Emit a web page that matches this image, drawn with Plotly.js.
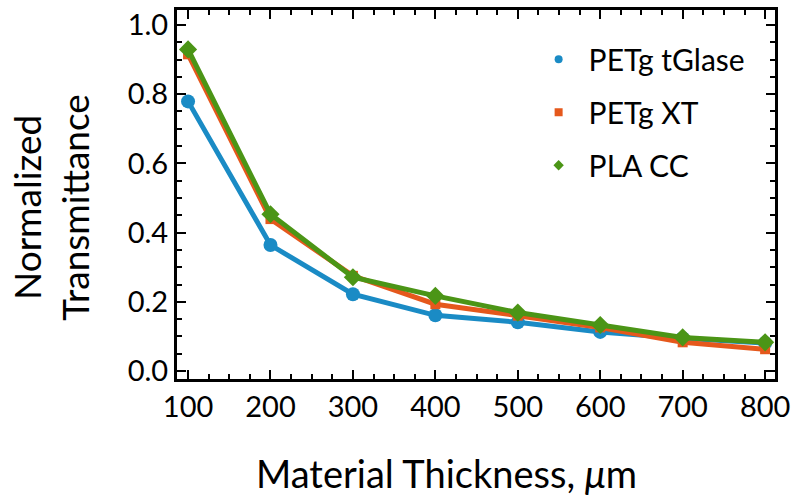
<!DOCTYPE html>
<html>
<head>
<meta charset="utf-8">
<script src="https://cdn.plot.ly/plotly-3.0.1.min.js"></script>
<style>html,body{margin:0;padding:0;background:#fff;}#chart{width:798px;height:497px;}</style>
</head>
<body>
<div id="chart"></div>
<script>
const thickness = [100, 200, 300, 400, 500, 600, 700, 800];
const petgTGlase = [0.779, 0.364, 0.222, 0.161, 0.141, 0.113, 0.095, 0.081];
const petgXT = [0.915, 0.439, 0.275, 0.193, 0.160, 0.126, 0.083, 0.063];
const plaCC = [0.929, 0.453, 0.271, 0.217, 0.169, 0.133, 0.097, 0.083];
const seriesNames = ["PETg tGlase", "PETg XT", "PLA CC"];
const colors = ["#1a8bc5", "#e5581c", "#4b9516"];
const symbols = ["circle", "square", "diamond"];
const sizes = [14, 10, 14];
const xTicks = [100, 200, 300, 400, 500, 600, 700, 800];
const yTicks = [0, 0.2, 0.4, 0.6, 0.8, 1.0];
const xTitle = "Material Thickness, <i>μ</i>m";
const yTitle = "Normalized<br>Transmittance";

const font = "Lato, 'Open Sans', sans-serif";
const allY = [petgTGlase, petgXT, plaCC];
const traces = [];
allY.forEach((ys, i) => {
  traces.push({
    x: thickness, y: ys, type: 'scatter', mode: 'lines+markers',
    line: {color: colors[i], width: 5},
    marker: {color: colors[i], symbol: symbols[i], size: sizes[i]},
    showlegend: false, hoverinfo: 'skip'
  });
});
allY.forEach((ys, i) => {
  traces.push({
    x: [null], y: [null], type: 'scatter', mode: 'markers', name: seriesNames[i],
    legendgroup: 'g' + i,
    marker: {color: colors[i], symbol: symbols[i], size: 8},
    showlegend: true
  });
});

const axisCommon = {
  showline: true, mirror: 'ticks', linecolor: '#000', linewidth: 3,
  ticks: 'inside', ticklen: 9, tickwidth: 2, tickcolor: '#000',
  showgrid: false, zeroline: false,
  tickfont: {family: font, size: 29, color: '#000'}
};

const layout = {
  width: 798, height: 497,
  margin: {l: 177, r: 23, t: 10, b: 118},
  paper_bgcolor: '#fff', plot_bgcolor: '#fff',
  font: {family: font, color: '#000'},
  xaxis: Object.assign({}, axisCommon, {
    range: [86.6, 812], tickvals: xTicks, ticktext: xTicks.map(String),
    minor: {dtick: 25, tick0: 0, ticks: 'inside', ticklen: 5, tickwidth: 2, tickcolor: '#000'}
  }),
  yaxis: Object.assign({}, axisCommon, {
    range: [-0.023, 1.043], tickvals: yTicks, ticktext: yTicks.map(v => v.toFixed(1)),
    minor: {dtick: 0.05, tick0: 0, ticks: 'inside', ticklen: 5, tickwidth: 2, tickcolor: '#000'}
  }),
  annotations: [
    {text: xTitle, xref: 'paper', yref: 'paper', x: 0.45, y: -0.255,
     xanchor: 'center', yanchor: 'middle', showarrow: false,
     font: {family: font, size: 38, color: '#000'}},
    {text: yTitle, xref: 'paper', yref: 'paper', x: -0.213, y: 0.466,
     xanchor: 'center', yanchor: 'middle', showarrow: false, textangle: -90,
     font: {family: font, size: 37, color: '#000'}}
  ],
  legend: {
    x: 0.588, y: 0.937, xanchor: 'left', yanchor: 'top',
    bgcolor: 'rgba(0,0,0,0)', borderwidth: 0,
    font: {family: font, size: 30, color: '#000'},
    tracegroupgap: 11, itemwidth: 50
  }
};

Plotly.newPlot('chart', traces, layout, {displayModeBar: false, staticPlot: true});
</script>
</body>
</html>
